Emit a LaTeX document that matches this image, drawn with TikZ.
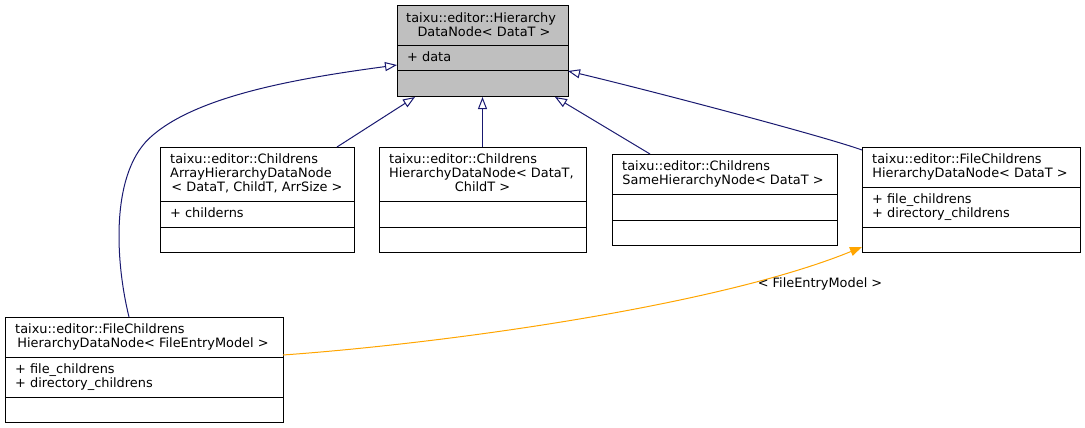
\documentclass[tikz,border=0pt]{standalone}
\usepackage{fontspec}
\setmainfont{DejaVu Sans}
\usetikzlibrary{arrows.meta}
\definecolor{edgeblue}{HTML}{191970}
\definecolor{edgeorange}{HTML}{FFA500}
\definecolor{basegray}{HTML}{BFBFBF}
\begin{document}
\begin{tikzpicture}[x=1pt,y=-1pt,
  cls/.style={draw=black, line width=1pt, rectangle, inner sep=0pt, outer sep=0pt, anchor=north west},
  sep/.style={draw=black, line width=1pt},
  txt/.style={font=\fontsize{12.9}{14}\selectfont, inner sep=0pt, anchor=base west},
  ctxt/.style={font=\fontsize{12.9}{14}\selectfont, inner sep=0pt, anchor=base},
  inherit/.style={draw=edgeblue, line width=1pt, -{Triangle[open, length=12pt, width=9pt]}},
  templ/.style={draw=edgeorange, line width=1pt, -{Triangle[length=12pt, width=9pt]}}]
\useasboundingbox (0,0) rectangle (1085,428);

% base class
\node[cls, fill=basegray, minimum width=171pt, minimum height=91pt] (base) at (397,6) {};
\draw[sep] (397,46) -- (568,46);
\draw[sep] (397,71) -- (568,71);
\node[txt] (baseT1) at (406,22.3) {taixu::editor::Hierarchy};
\node[ctxt] (baseT2) at (484,36.3) {DataNode< DataT >};
\node[txt] (baseA1) at (407,61.8) {+ data};

% ChildrensArrayHierarchyDataNode
\node[cls, fill=white, minimum width=194pt, minimum height=105pt] (arr) at (160,147) {};
\draw[sep] (160,201.5) -- (354,201.5);
\draw[sep] (160,227) -- (354,227);
\node[txt] (arrT1) at (170,163.5) {taixu::editor::Childrens};
\node[txt] (arrT2) at (170,177.5) {ArrayHierarchyDataNode};
\node[ctxt] (arrT3) at (257,191.5) {< DataT, ChildT, ArrSize >};
\node[txt] (arrA1) at (170,217.5) {+ childerns};

% ChildrensHierarchyDataNode
\node[cls, fill=white, minimum width=207pt, minimum height=105pt] (chl) at (379,147) {};
\draw[sep] (379,201.5) -- (586,201.5);
\draw[sep] (379,227) -- (586,227);
\node[txt] (chlT1) at (389,163.5) {taixu::editor::Childrens};
\node[txt] (chlT2) at (389,177.5) {HierarchyDataNode< DataT,};
\node[ctxt] (chlT3) at (482.5,191.5) {ChildT >};

% ChildrensSameHierarchyNode
\node[cls, fill=white, minimum width=225pt, minimum height=91pt] (same) at (612,154) {};
\draw[sep] (612,194) -- (837,194);
\draw[sep] (612,220) -- (837,220);
\node[txt] (sameT1) at (622,170.3) {taixu::editor::Childrens};
\node[ctxt] (sameT2) at (723,184.3) {SameHierarchyNode< DataT >};

% FileChildrensHierarchyDataNode<DataT>
\node[cls, fill=white, minimum width=218pt, minimum height=105pt] (filet) at (862,147) {};
\draw[sep] (862,187) -- (1080,187);
\draw[sep] (862,227) -- (1080,227);
\node[txt] (filetT1) at (872,163.3) {taixu::editor::FileChildrens};
\node[ctxt] (filetT2) at (970,177.3) {HierarchyDataNode< DataT >};
\node[txt] (filetA1) at (872,203.3) {+ file\_childrens};
\node[txt] (filetA2) at (872,217.3) {+ directory\_childrens};

% FileChildrensHierarchyDataNode<FileEntryModel>
\node[cls, fill=white, minimum width=278pt, minimum height=105pt] (filem) at (5,317) {};
\draw[sep] (5,357) -- (283,357);
\draw[sep] (5,397) -- (283,397);
\node[txt] (filemT1) at (15,333.3) {taixu::editor::FileChildrens};
\node[ctxt] (filemT2) at (143,347.3) {HierarchyDataNode< FileEntryModel >};
\node[txt] (filemA1) at (15,373.3) {+ file\_childrens};
\node[txt] (filemA2) at (15,387.3) {+ directory\_childrens};

% inheritance edges
\draw[inherit] ([xshift=-15pt]filem.north) .. controls (115,260) and (110,170) .. (153,135)
  .. controls (200,95) and (300,78) .. ([yshift=-13.5pt]base.west);
\draw[inherit] ([xshift=80pt]arr.north) -- ([xshift=-67.5pt]base.south);
\draw[inherit] (chl.north) -- (base.south);
\draw[inherit] ([xshift=-74.5pt]same.north) -- ([xshift=72.5pt]base.south);
\draw[inherit] ([yshift=-3pt]filet.north west) .. controls (820,135) and (640,88) .. ([yshift=-19.5pt]base.east);

% template instantiation edge
\draw[templ] ([yshift=14.5pt]filem.east) .. controls (450,343) and (720,305) .. ([yshift=5pt]filet.south west);
\node[ctxt] (tlabel) at (820,287) {< FileEntryModel >};
\end{tikzpicture}
\end{document}
